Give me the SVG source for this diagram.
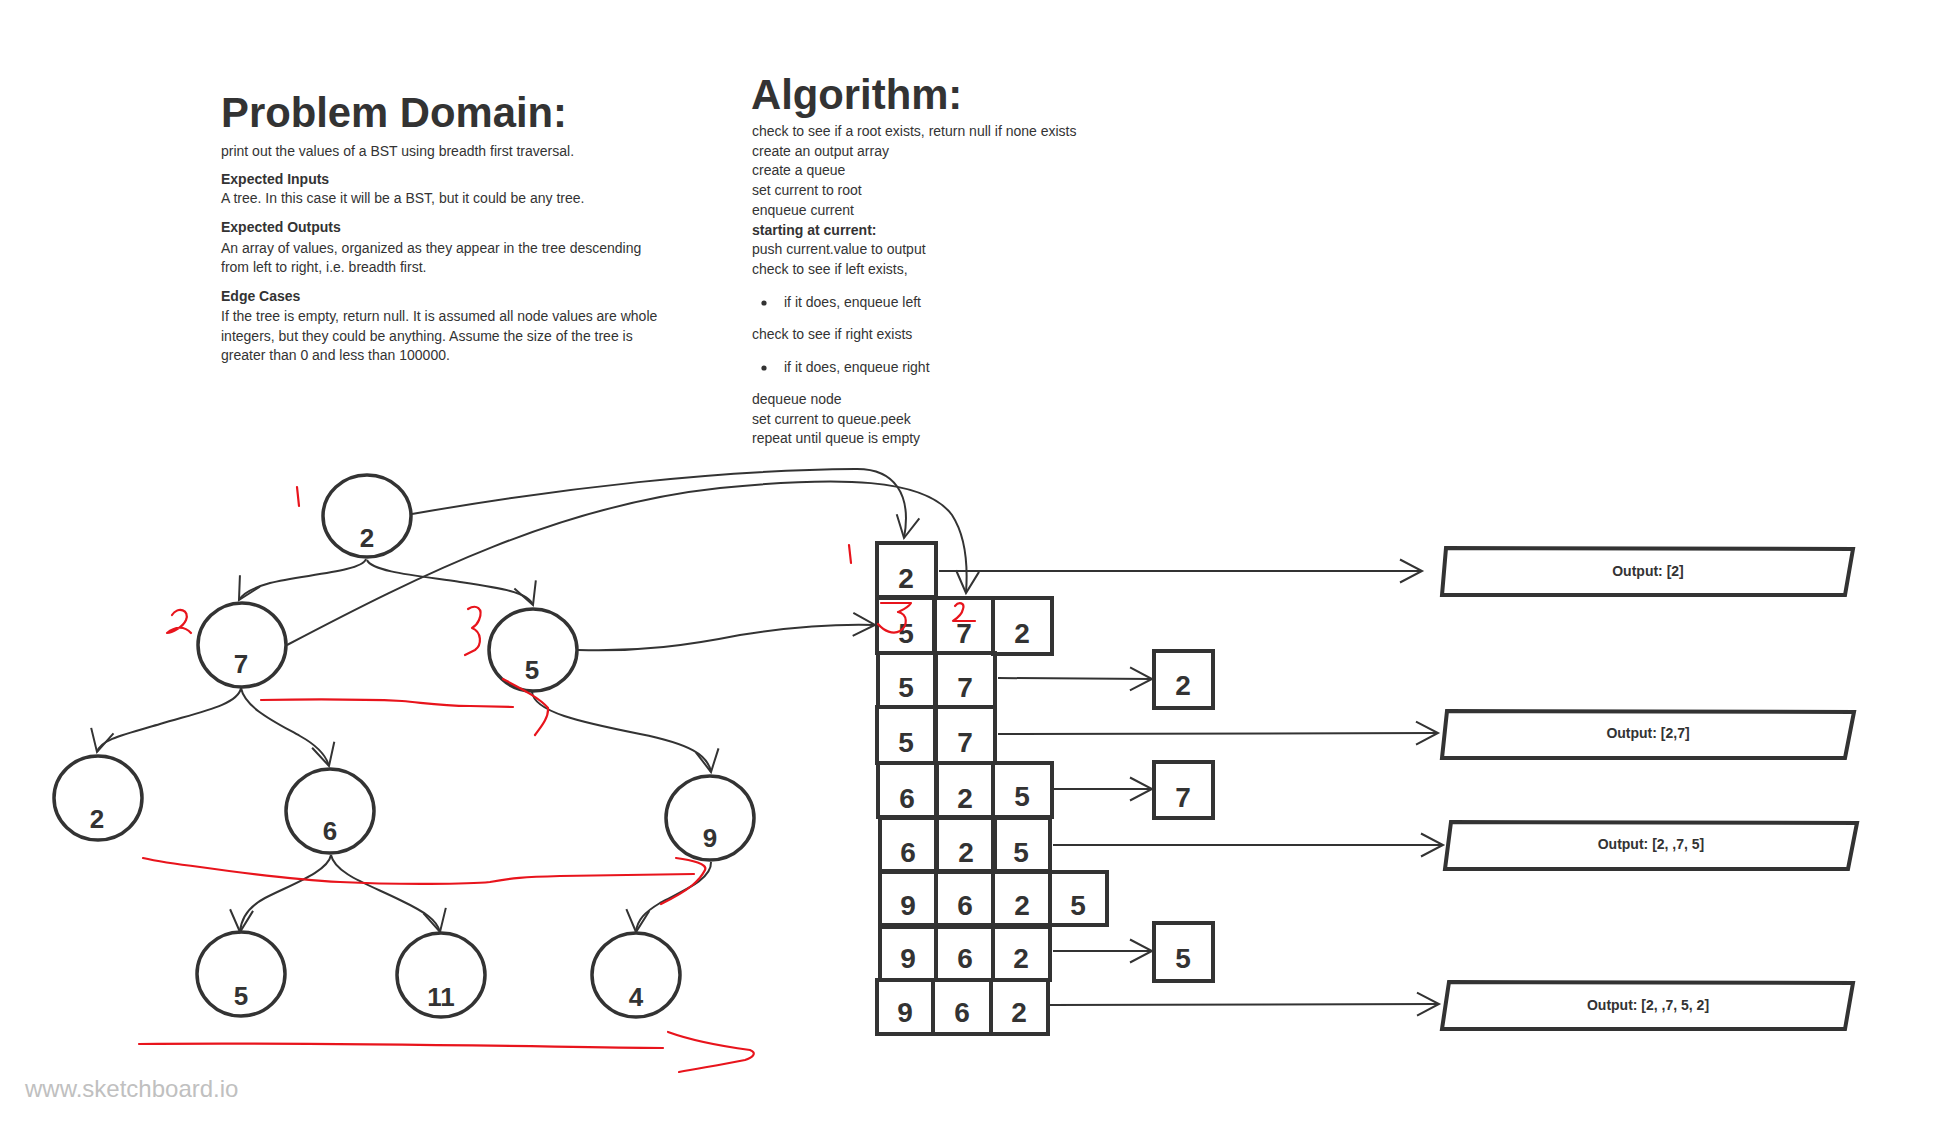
<svg xmlns="http://www.w3.org/2000/svg" width="1937" height="1127" viewBox="0 0 1937 1127">
<style>
.t{font-family:"Liberation Sans",Arial,sans-serif;fill:#333;font-size:14px}
.b{font-weight:bold}
.h{font-family:"Liberation Sans",Arial,sans-serif;fill:#333;font-size:41.8px;font-weight:bold}
.nd{fill:none;stroke:#333;stroke-width:3.5}
.lb{font-family:"Liberation Sans",Arial,sans-serif;fill:#333;font-size:26px;font-weight:bold;text-anchor:middle}
.qb{fill:none;stroke:#333;stroke-width:4}
.ql{font-family:"Liberation Sans",Arial,sans-serif;fill:#333;font-size:28px;font-weight:bold;text-anchor:middle}
.ol{font-family:"Liberation Sans",Arial,sans-serif;fill:#333;font-size:14px;font-weight:bold;text-anchor:middle}
.cn{fill:none;stroke:#333;stroke-width:2;marker-end:url(#arr)}
.rd{fill:none;stroke:#e8141c;stroke-width:2.2;stroke-linecap:round;stroke-linejoin:round}
</style>
<defs>
<marker id="arr" markerUnits="userSpaceOnUse" markerWidth="30" markerHeight="30" refX="24" refY="13" orient="auto" overflow="visible">
<path d="M2 1.5 L24 13 L2 24.5" fill="none" stroke="#333" stroke-width="2"/>
</marker>
</defs>
<rect width="1937" height="1127" fill="#fff"/>

<g id="problem-domain">
<text class="h" x="221" y="127">Problem Domain:</text>
<text class="t" x="221" y="156">print out the values of a BST using breadth first traversal.</text>
<text class="t b" x="221" y="184">Expected Inputs</text>
<text class="t" x="221" y="203">A tree. In this case it will be a BST, but it could be any tree.</text>
<text class="t b" x="221" y="232">Expected Outputs</text>
<text class="t" x="221" y="253">An array of values, organized as they appear in the tree descending</text>
<text class="t" x="221" y="272">from left to right, i.e. breadth first.</text>
<text class="t b" x="221" y="301">Edge Cases</text>
<text class="t" x="221" y="321">If the tree is empty, return null. It is assumed all node values are whole</text>
<text class="t" x="221" y="341">integers, but they could be anything. Assume the size of the tree is</text>
<text class="t" x="221" y="360">greater than 0 and less than 100000.</text>
</g>

<g id="algorithm">
<text class="h" x="751" y="109">Algorithm:</text>
<text class="t" x="752" y="136">check to see if a root exists, return null if none exists</text>
<text class="t" x="752" y="156">create an output array</text>
<text class="t" x="752" y="175">create a queue</text>
<text class="t" x="752" y="195">set current to root</text>
<text class="t" x="752" y="215">enqueue current</text>
<text class="t b" x="752" y="235">starting at current:</text>
<text class="t" x="752" y="254">push current.value to output</text>
<text class="t" x="752" y="274">check to see if left exists,</text>
<circle cx="764" cy="303" r="2.6" fill="#333"/>
<text class="t" x="784" y="307">if it does, enqueue left</text>
<text class="t" x="752" y="339">check to see if right exists</text>
<circle cx="764" cy="368" r="2.6" fill="#333"/>
<text class="t" x="784" y="372">if it does, enqueue right</text>
<text class="t" x="752" y="404">dequeue node</text>
<text class="t" x="752" y="424">set current to queue.peek</text>
<text class="t" x="752" y="443">repeat until queue is empty</text>
</g>

<g id="connectors">
<path class="cn" d="M366 559 C362 572 300 575 270 583 C252 588 243 593 239 600"/>
<path class="cn" d="M367 560 C372 572 420 576 460 582 C500 588 528 592 533 605"/>
<path class="cn" d="M241 688 C238 705 200 712 160 724 C122 735 100 740 97 752"/>
<path class="cn" d="M241 688 C245 708 275 722 300 736 C318 746 326 755 329 766"/>
<path class="cn" d="M532 692 C534 712 580 722 640 734 C690 744 708 755 711 772"/>
<path class="cn" d="M331 855 C328 872 290 885 265 898 C248 907 241 918 240 932"/>
<path class="cn" d="M331 855 C335 874 370 885 400 900 C425 912 437 920 440 932"/>
<path class="cn" d="M711 862 C712 880 680 892 660 903 C645 912 637 920 636 932"/>
<path class="cn" d="M412 514 C560 488 720 470 855 469 C895 468 912 495 904 538"/>
<path class="cn" d="M287 645 C420 575 560 505 720 488 C840 476 925 478 952 515 C965 535 968 565 966 593"/>
<path class="cn" d="M578 650 C640 652 690 645 740 635 C790 627 840 624 875 625"/>
<path class="cn" d="M939 571 L1422 571"/>
<path class="cn" d="M998 678 L1152 679"/>
<path class="cn" d="M998 734 L1438 733"/>
<path class="cn" d="M1053 789 L1152 789"/>
<path class="cn" d="M1053 845 L1443 845"/>
<path class="cn" d="M1053 951 L1152 951"/>
<path class="cn" d="M1050 1005 L1439 1004"/>
</g>

<g id="tree-root-2"><ellipse class="nd" cx="367" cy="516" rx="44" ry="41"/><text class="lb" x="367" y="547">2</text></g>
<g id="tree-7"><ellipse class="nd" cx="242" cy="645" rx="44" ry="42"/><text class="lb" x="241" y="673">7</text></g>
<g id="tree-5"><ellipse class="nd" cx="533" cy="650" rx="44" ry="41"/><text class="lb" x="532" y="679">5</text></g>
<g id="tree-2b"><ellipse class="nd" cx="98" cy="798" rx="44" ry="42"/><text class="lb" x="97" y="828">2</text></g>
<g id="tree-6"><ellipse class="nd" cx="330" cy="811" rx="44" ry="42"/><text class="lb" x="330" y="840">6</text></g>
<g id="tree-9"><ellipse class="nd" cx="710" cy="818" rx="44" ry="42"/><text class="lb" x="710" y="847">9</text></g>
<g id="tree-5b"><ellipse class="nd" cx="241" cy="974" rx="44" ry="42"/><text class="lb" x="241" y="1005">5</text></g>
<g id="tree-11"><ellipse class="nd" cx="441" cy="975" rx="44" ry="42"/><text class="lb" x="441" y="1006">11</text></g>
<g id="tree-4"><ellipse class="nd" cx="636" cy="975" rx="44" ry="42"/><text class="lb" x="636" y="1006">4</text></g>

<g id="q1-2"><rect class="qb" x="877" y="543" width="59" height="54"/><text class="ql" x="906" y="588">2</text></g>
<g id="q2-5"><rect class="qb" x="877" y="598" width="57" height="55"/><text class="ql" x="906" y="643">5</text></g>
<g id="q2-7"><rect class="qb" x="935" y="598" width="58" height="55"/><text class="ql" x="964" y="643">7</text></g>
<g id="q2-2"><rect class="qb" x="993" y="598" width="59" height="56"/><text class="ql" x="1022" y="643">2</text></g>
<g id="q3-5"><rect class="qb" x="878" y="653" width="57" height="54"/><text class="ql" x="906" y="697">5</text></g>
<g id="q3-7"><rect class="qb" x="936" y="653" width="59" height="54"/><text class="ql" x="965" y="697">7</text></g>
<g id="q4-5"><rect class="qb" x="877" y="707" width="58" height="56"/><text class="ql" x="906" y="752">5</text></g>
<g id="q4-7"><rect class="qb" x="936" y="707" width="59" height="56"/><text class="ql" x="965" y="752">7</text></g>
<g id="q5-6"><rect class="qb" x="878" y="763" width="58" height="54"/><text class="ql" x="907" y="808">6</text></g>
<g id="q5-2"><rect class="qb" x="937" y="763" width="56" height="54"/><text class="ql" x="965" y="808">2</text></g>
<g id="q5-5"><rect class="qb" x="993" y="763" width="59" height="54"/><text class="ql" x="1022" y="806">5</text></g>
<g id="q6-6"><rect class="qb" x="880" y="818" width="56" height="53"/><text class="ql" x="908" y="862">6</text></g>
<g id="q6-2"><rect class="qb" x="937" y="818" width="56" height="53"/><text class="ql" x="966" y="862">2</text></g>
<g id="q6-5"><rect class="qb" x="995" y="818" width="55" height="53"/><text class="ql" x="1021" y="862">5</text></g>
<g id="q7-9"><rect class="qb" x="880" y="872" width="56" height="53"/><text class="ql" x="908" y="915">9</text></g>
<g id="q7-6"><rect class="qb" x="936" y="872" width="57" height="53"/><text class="ql" x="965" y="915">6</text></g>
<g id="q7-2"><rect class="qb" x="993" y="872" width="57" height="53"/><text class="ql" x="1022" y="915">2</text></g>
<g id="q7-5"><rect class="qb" x="1050" y="872" width="57" height="53"/><text class="ql" x="1078" y="915">5</text></g>
<g id="q8-9"><rect class="qb" x="880" y="927" width="56" height="53"/><text class="ql" x="908" y="968">9</text></g>
<g id="q8-6"><rect class="qb" x="936" y="927" width="57" height="53"/><text class="ql" x="965" y="968">6</text></g>
<g id="q8-2"><rect class="qb" x="993" y="927" width="57" height="53"/><text class="ql" x="1021" y="968">2</text></g>
<g id="q9-9"><rect class="qb" x="877" y="980" width="56" height="54"/><text class="ql" x="905" y="1022">9</text></g>
<g id="q9-6"><rect class="qb" x="933" y="980" width="58" height="54"/><text class="ql" x="962" y="1022">6</text></g>
<g id="q9-2"><rect class="qb" x="991" y="980" width="57" height="54"/><text class="ql" x="1019" y="1022">2</text></g>

<g id="deq-2"><rect class="qb" x="1154" y="651" width="59" height="57"/><text class="ql" x="1183" y="695">2</text></g>
<g id="deq-7"><rect class="qb" x="1154" y="762" width="59" height="56"/><text class="ql" x="1183" y="807">7</text></g>
<g id="deq-5"><rect class="qb" x="1154" y="923" width="59" height="58"/><text class="ql" x="1183" y="968">5</text></g>

<g id="out-1"><polygon class="qb" points="1446,548 1853,549 1845,595 1442,595"/><text class="ol" x="1648" y="576">Output: [2]</text></g>
<g id="out-2"><polygon class="qb" points="1447,711 1854,712 1845,758 1442,758"/><text class="ol" x="1648" y="738">Output: [2,7]</text></g>
<g id="out-3"><polygon class="qb" points="1451,822 1857,823 1848,869 1445,869"/><text class="ol" x="1651" y="849">Output: [2, ,7, 5]</text></g>
<g id="out-4"><polygon class="qb" points="1449,982 1853,983 1845,1029 1442,1029"/><text class="ol" x="1648" y="1010">Output: [2, ,7, 5, 2]</text></g>

<g id="annotations">
<path class="rd" d="M297 487 L299 506"/>
<path class="rd" d="M172 615 C178 606 190 610 186 620 C183 627 172 633 167 633 C175 626 185 626 191 633"/>
<path class="rd" d="M468 609 C476 604 484 608 479 620 C477 625 472 628 472 628 C482 632 482 645 475 650 L465 655"/>
<path class="rd" d="M261 700 C320 699 380 700 402 701 C425 703 440 706 470 706 L513 707"/>
<path class="rd" d="M503 679 C520 688 540 698 548 708 C549 718 540 728 535 735"/>
<path class="rd" d="M143 858 C160 862 175 864 200 867 C250 874 300 880 340 882 C400 885 470 884 490 882 C510 878 525 877 560 876 L694 874"/>
<path class="rd" d="M676 858 C692 860 708 864 705 870 C700 880 690 890 661 904"/>
<path class="rd" d="M139 1044 C300 1042 500 1046 663 1048"/>
<path class="rd" d="M668 1032 C690 1040 720 1046 750 1050 C758 1053 752 1058 745 1060 C720 1065 700 1068 679 1072"/>
<path class="rd" d="M849 545 L851 563"/>
<path class="rd" d="M881 603 L911 603 C908 608 902 610 898 612 C908 614 908 626 900 631 C893 635 884 631 878 624"/>
<path class="rd" d="M955 606 C959 601 965 603 963 609 C962 614 956 619 953 621 L975 621"/>
</g>

<text x="25" y="1097" font-family="Liberation Sans, Arial, sans-serif" font-size="24" fill="#c0c0c0">www.sketchboard.io</text>
</svg>
